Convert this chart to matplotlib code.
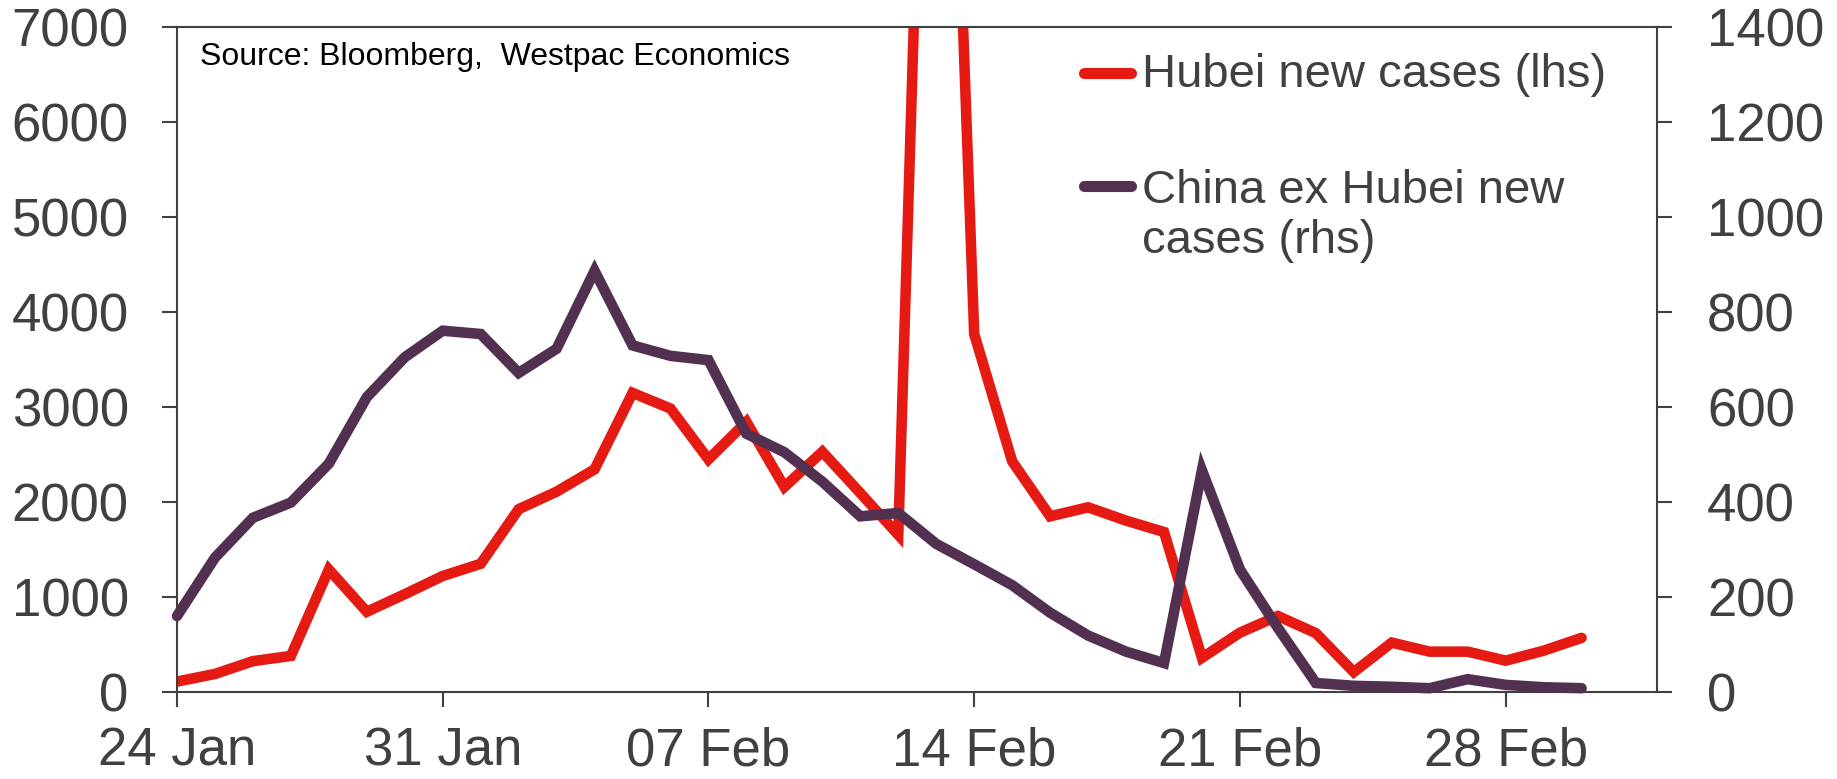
import matplotlib
matplotlib.use("Agg")
import matplotlib.pyplot as plt
import matplotlib.dates as mdates
from matplotlib.lines import Line2D
import numpy as np

plt.rcParams['font.family'] = ['Liberation Sans', 'DejaVu Sans']

# daily data, 24 Jan - 1 Mar
dates = np.arange(np.datetime64('2020-01-24'), np.datetime64('2020-03-02'))
hubei = [110, 190, 325, 380, 1290, 845, 1030, 1222, 1350, 1925,
         2110, 2345, 3150, 2985, 2450, 2845, 2160, 2530, 2095, 1655,
         14800, 3770, 2430, 1850, 1945, 1805, 1685, 360, 625, 800,
         620, 210, 520, 425, 425, 330, 435, 570]
ex_hubei = [160, 283, 367, 399, 481, 621, 705, 761, 754, 672,
            723, 887, 730, 708, 699, 544, 505, 443, 370, 377,
            312, 269, 225, 167, 119, 85, 61, 467, 258, 135,
            19, 13, 11, 8, 27, 15, 10, 8]

lhs_ticks = [0, 1000, 2000, 3000, 4000, 5000, 6000, 7000]
rhs_ticks = [0, 200, 400, 600, 800, 1000, 1200, 1400]
x_ticks = np.arange(np.datetime64('2020-01-24'), np.datetime64('2020-03-01'), 7)

red = '#E41A13'
purple = '#52304F'
grey = '#404040'

W, H = 1837, 779
fig = plt.figure(figsize=(W / 100, H / 100), dpi=100)
ax = fig.add_axes([177 / W, 1 - 692 / H, (1657.5 - 177) / W, (692 - 27.3) / H])
ax2 = ax.twinx()

ax.plot(dates, hubei, color=red, lw=7.6, solid_joinstyle='miter', solid_capstyle='round')
ax2.plot(dates, ex_hubei, color=purple, lw=7.6, solid_joinstyle='miter',
         solid_capstyle='round', clip_on=False)

ax.set_xlim(np.datetime64('2020-01-24'), np.datetime64('2020-03-03'))
ax.set_ylim(0, 7000)
ax2.set_ylim(0, 1400)
ax.set_yticks(lhs_ticks)
ax2.set_yticks(rhs_ticks)
ax.set_xticks(x_ticks)
ax.xaxis.set_major_formatter(mdates.DateFormatter('%d %b'))

for sp in ax.spines.values():
    sp.set_color(grey)
    sp.set_linewidth(1.5)
ax.spines['right'].set_visible(False)
for name in ['left', 'top', 'bottom']:
    ax2.spines[name].set_visible(False)
ax2.spines['right'].set_color(grey)
ax2.spines['right'].set_linewidth(1.5)

ax.tick_params(axis='x', length=10.8, width=1.5, color=grey, labelsize=38,
               labelcolor=grey, pad=14)
ax.tick_params(axis='y', length=10.8, width=1.5, color=grey, labelsize=38,
               labelcolor=grey, pad=24)
ax2.tick_params(axis='y', length=10.8, width=1.5, color=grey, labelsize=38,
                labelcolor=grey, pad=25)

fig.text(200 / W, 1 - 57 / H, 'Source: Bloomberg,  Westpac Economics',
         fontsize=23, color='black', va='center', ha='left')

# legend, drawn by hand so the handle sits by the first text line
for yc, col in [(72.5, red), (185.5, purple)]:
    fig.add_artist(Line2D([1084 / W, 1131 / W], [1 - yc / H, 1 - yc / H],
                          color=col, lw=8, solid_capstyle='round'))
fig.text(1142 / W, 1 - 87 / H, 'Hubei new cases (lhs)', fontsize=34,
         color=grey, va='baseline', ha='left')
fig.text(1142 / W, 1 - 203 / H, 'China ex Hubei new', fontsize=34,
         color=grey, va='baseline', ha='left')
fig.text(1142 / W, 1 - 253 / H, 'cases (rhs)', fontsize=34,
         color=grey, va='baseline', ha='left')

fig.savefig('out.png', dpi=100)
